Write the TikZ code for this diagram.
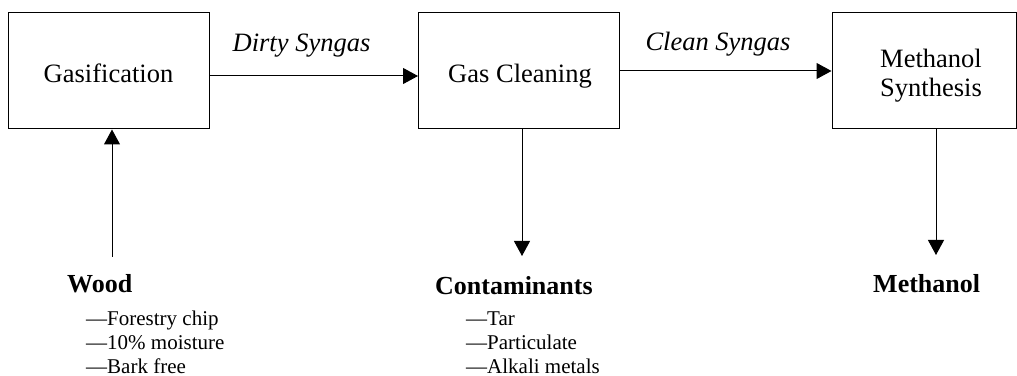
\documentclass[tikz,border=0pt]{standalone}
\usepackage{fontspec}
\setmainfont{Liberation Serif}
\usetikzlibrary{arrows.meta}
\begin{document}
\begin{tikzpicture}[x=1pt,y=1pt,
  box/.style={draw, line width=1pt, minimum width=201pt, minimum height=116pt, inner sep=0pt},
  txt/.style={inner sep=0pt, anchor=base, font=\fontsize{26.5}{29}\selectfont},
  lbl/.style={inner sep=0pt, anchor=base, font=\fontsize{26.5}{29}\selectfont\itshape},
  head/.style={inner sep=0pt, anchor=base west, font=\fontsize{26}{29}\selectfont\bfseries},
  item/.style={inner sep=0pt, anchor=base west, font=\fontsize{21}{24}\selectfont},
  flow/.style={line width=1pt, -{Triangle[width=16pt,length=15pt]}}]
\useasboundingbox (0,0) rectangle (1017,375);
% boxes
\node[box] (gas) at (108.5,304) {};
\node[box] (clean) at (519,304) {};
\node[box, minimum width=184pt] (meth) at (924,304) {};
% box texts
\node[txt] (gastxt) at (108.5,292) {Gasification};
\node[txt] (cleantxt) at (520,292) {Gas Cleaning};
\node[txt] (methtxta) at (931,307) {Methanol};
\node[txt] (methtxtb) at (931,278) {Synthesis};
% stream labels
\node[lbl] (dirty) at (301.5,323) {Dirty Syngas};
\node[lbl] (cleangas) at (718,324) {Clean Syngas};
% connectors
\draw[flow] ([yshift=-5pt]gas.east) -- ([yshift=-5pt]clean.west);
\draw[flow] (clean.east) -- (meth.west);
\coordinate (woodin) at (112,118);
\draw[flow] (woodin) -- (woodin |- gas.south);
\coordinate (contout) at (522,119);
\draw[flow] (contout |- clean.south) -- (contout);
\coordinate (methout) at (936,120);
\draw[flow] (methout |- meth.south) -- (methout);
% headings
\node[head] (wood) at (67,83) {Wood};
\node[head] (cont) at (435,81) {Contaminants};
\node[head] (meoh) at (873,82) {Methanol};
% items
\node[item] (wa) at (86,50) {---Forestry chip};
\node[item] (wb) at (86,26) {---10\% moisture};
\node[item] (wc) at (86,2) {---Bark free};
\node[item] (ca) at (466,50) {---Tar};
\node[item] (cb) at (466,26) {---Particulate};
\node[item] (cc) at (466,2) {---Alkali metals};
\end{tikzpicture}
\end{document}
